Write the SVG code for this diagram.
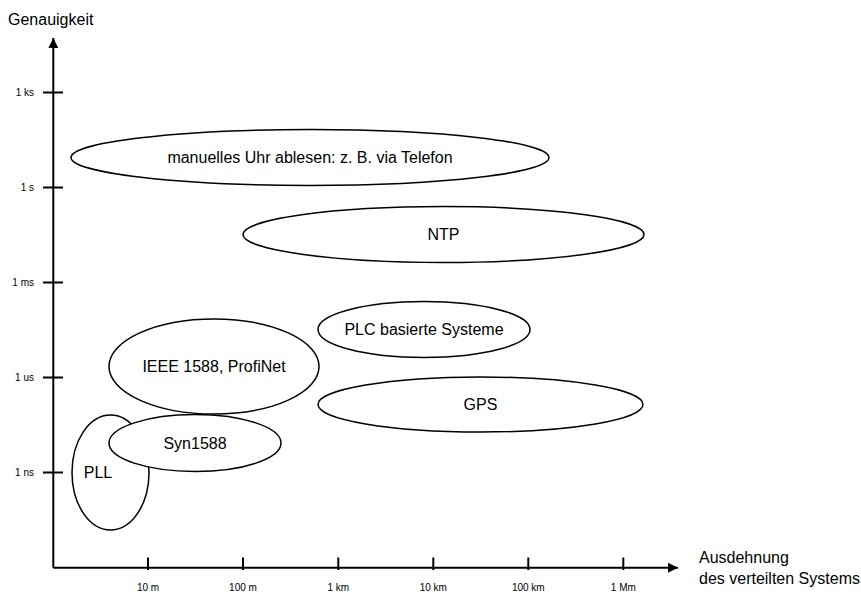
<svg xmlns="http://www.w3.org/2000/svg" width="861" height="595" viewBox="0 0 861 595">
  <style>
    .axis { stroke: #000; stroke-width: 2; fill: none; }
    .tick { stroke: #000; stroke-width: 2; }
    .region { fill: #fff; stroke: #000; stroke-width: 1.5; }
    .lbl { font-family: "Liberation Sans", Arial, sans-serif; font-size: 16px; fill: #000; }
    .node { text-anchor: middle; dominant-baseline: central; }
    .tl { font-family: "Liberation Sans", Arial, sans-serif; font-size: 10px; fill: #000; }
    .tx { text-anchor: middle; }
    .ty { text-anchor: end; }
  </style>
  <defs>
    <marker id="arrow" viewBox="0 0 10 10" refX="10" refY="5" markerWidth="5" markerHeight="5" markerUnits="strokeWidth" orient="auto">
      <path d="M0,0 L10,5 L0,10 z" fill="#000"/>
    </marker>
  </defs>
  <rect width="861" height="595" fill="#fff"/>

  <!-- axes -->
  <g id="axes">
    <path class="axis" d="M53.3,567.7 L53.3,38" marker-end="url(#arrow)"/>
    <path class="axis" d="M53.3,567.7 L678,567.7" marker-end="url(#arrow)"/>
    <!-- accuracy ticks -->
    <line class="tick" x1="43" y1="92.5" x2="63" y2="92.5"/>
    <line class="tick" x1="43" y1="187.5" x2="63" y2="187.5"/>
    <line class="tick" x1="43" y1="282.5" x2="63" y2="282.5"/>
    <line class="tick" x1="43" y1="377.5" x2="63" y2="377.5"/>
    <line class="tick" x1="43" y1="472.5" x2="63" y2="472.5"/>
    <!-- extent ticks -->
    <line class="tick" x1="148" y1="557.5" x2="148" y2="570"/>
    <line class="tick" x1="243" y1="557.5" x2="243" y2="570"/>
    <line class="tick" x1="338.3" y1="557.5" x2="338.3" y2="570"/>
    <line class="tick" x1="433.3" y1="557.5" x2="433.3" y2="570"/>
    <line class="tick" x1="528.3" y1="557.5" x2="528.3" y2="570"/>
    <line class="tick" x1="623.3" y1="557.5" x2="623.3" y2="570"/>
    <text class="tl ty" x="34" y="96">1 ks</text>
    <text class="tl ty" x="34" y="191">1 s</text>
    <text class="tl ty" x="34" y="286">1 ms</text>
    <text class="tl ty" x="34" y="381">1 us</text>
    <text class="tl ty" x="34" y="476">1 ns</text>
    <text class="tl tx" x="148" y="591">10 m</text>
    <text class="tl tx" x="243" y="591">100 m</text>
    <text class="tl tx" x="338.3" y="591">1 km</text>
    <text class="tl tx" x="433.3" y="591">10 km</text>
    <text class="tl tx" x="528.3" y="591">100 km</text>
    <text class="tl tx" x="623.3" y="591">1 Mm</text>
    <text class="lbl" x="8" y="25">Genauigkeit</text>
    <text class="lbl" x="699" y="563">Ausdehnung</text>
    <text class="lbl" x="699" y="584">des verteilten Systems</text>
  </g>

  <g id="manuell">
    <ellipse class="region" cx="310" cy="157.5" rx="239" ry="28"/>
    <text class="lbl node" x="310" y="157.5">manuelles Uhr ablesen: z. B. via Telefon</text>
  </g>
  <g id="ntp">
    <ellipse class="region" cx="443.5" cy="234.5" rx="200.5" ry="28"/>
    <text class="lbl node" x="443.5" y="234.5">NTP</text>
  </g>
  <g id="plc">
    <ellipse class="region" cx="424" cy="329.5" rx="106" ry="28"/>
    <text class="lbl node" x="424" y="329.5">PLC basierte Systeme</text>
  </g>
  <g id="ieee1588">
    <ellipse class="region" cx="214" cy="366.5" rx="105" ry="47.5"/>
    <text class="lbl node" x="214" y="366.5">IEEE 1588, ProfiNet</text>
  </g>
  <g id="gps">
    <ellipse class="region" cx="480.5" cy="404.5" rx="162.5" ry="27.5"/>
    <text class="lbl node" x="480.5" y="404.5">GPS</text>
  </g>
  <g id="pll">
    <ellipse class="region" cx="110.5" cy="472.5" rx="38.5" ry="57.5"/>
    <text class="lbl node" x="98" y="472.5">PLL</text>
  </g>
  <g id="syn1588">
    <ellipse class="region" cx="195" cy="443" rx="86" ry="28.5"/>
    <text class="lbl node" x="195" y="443">Syn1588</text>
  </g>
</svg>
